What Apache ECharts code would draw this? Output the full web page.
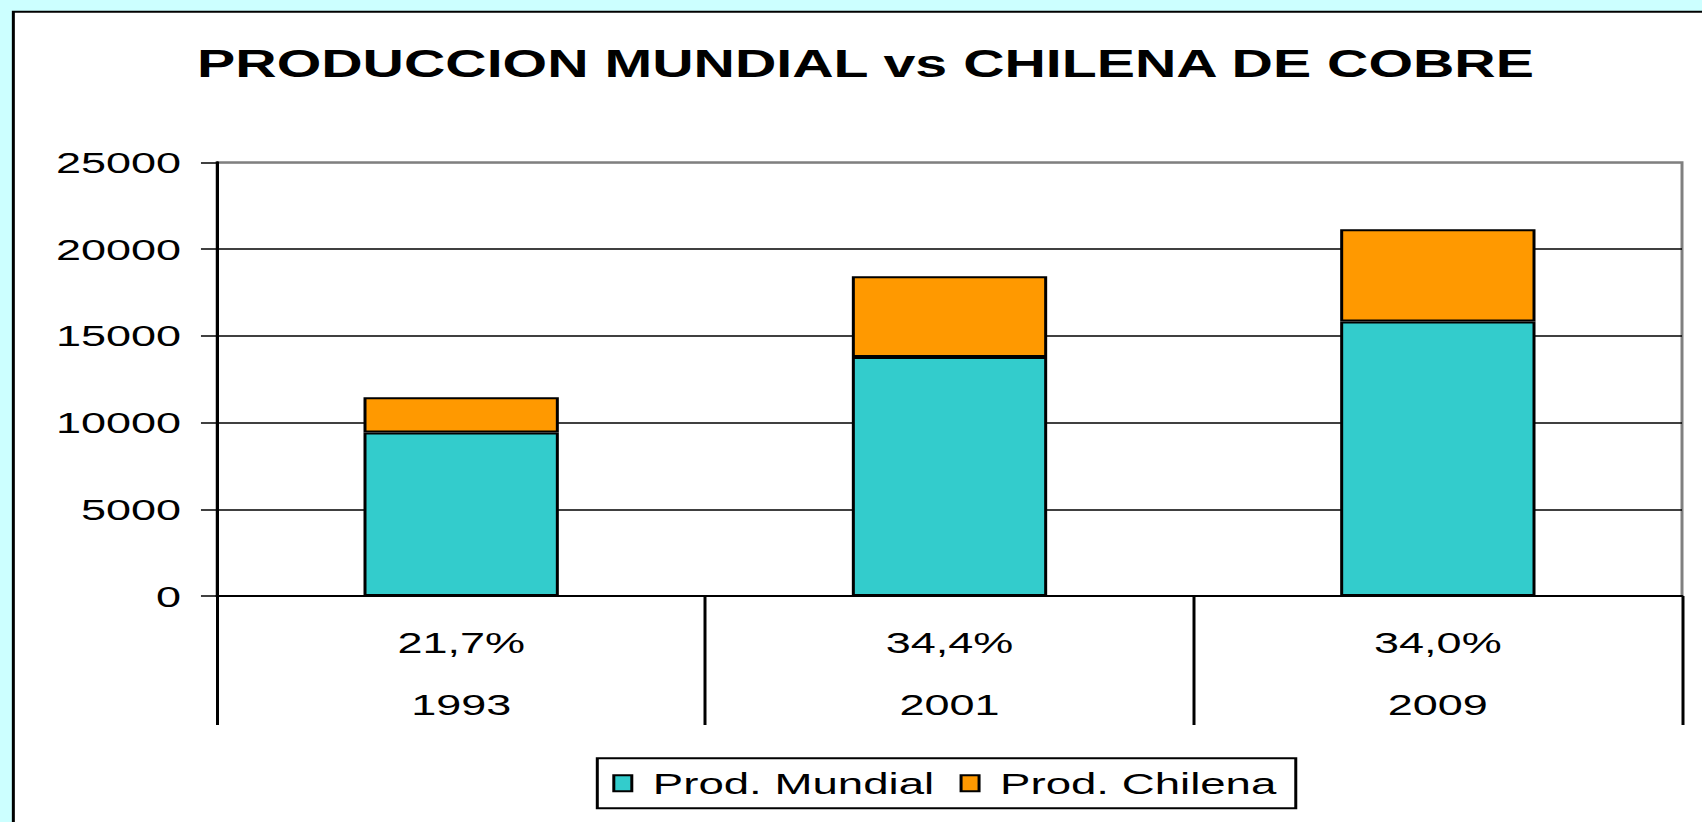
<!DOCTYPE html>
<html>
<head>
<meta charset="utf-8">
<script src="https://cdn.jsdelivr.net/npm/echarts@6/dist/echarts.min.js"></script>
<style>
  html, body { margin: 0; padding: 0; background: #ccffff; overflow: hidden; }
  #chart { position: absolute; left: 0; top: 0; width: 1134.67px; height: 822px;
           transform: scaleX(1.5); transform-origin: 0 0; }
</style>
</head>
<body>
<div id="chart"></div>
<script>
// Data
const titleText = 'PRODUCCION MUNDIAL vs CHILENA DE COBRE';
const years = ['1993', '2001', '2009'];
const pctLabels = ['21,7%', '34,4%', '34,0%'];
const seriesNames = ['Prod. Mundial', 'Prod. Chilena'];
const mundial = [9430, 13770, 15820];
const chilena = [2020, 4660, 5320];
const yTicks = { min: 0, max: 25000, interval: 5000 };

const FONT = '"Liberation Sans", Arial, sans-serif';
const chart = echarts.init(document.getElementById('chart'), null, { renderer: 'svg', width: 1134.67, height: 822 });

const categories = years.map((y, i) => pctLabels[i] + '\n' + y);

chart.setOption({
  animation: false,
  backgroundColor: 'transparent',
  graphic: [{
    type: 'rect', z: -10, silent: true,
    shape: { x: 8.9, y: 11.7, width: 2000, height: 2000 },
    style: { fill: '#ffffff', stroke: '#000000', lineWidth: 2 }
  }],
  title: {
    text: titleText,
    left: 572, top: 40, textAlign: 'center',
    textStyle: { fontFamily: FONT, fontWeight: 'bold', fontSize: 38.2, color: '#000' }
  },
  legend: {
    data: seriesNames,
    left: 398.2, top: 758.3,
    orient: 'horizontal',
    backgroundColor: '#fff',
    borderColor: '#000', borderWidth: 2,
    padding: [10, 13, 10, 10],
    itemWidth: 12, itemHeight: 16, itemGap: 17,
    icon: 'rect',
    textStyle: { fontFamily: FONT, fontSize: 30.4, color: '#000', padding: [0, 0, 0, 9] },
    selectedMode: false
  },
  grid: {
    left: 144.67, right: 13.33, top: 162.3, bottom: 226,
    show: true, borderColor: '#808080', borderWidth: 2, backgroundColor: 'transparent'
  },
  xAxis: {
    type: 'category',
    data: categories,
    axisLine: { show: true, lineStyle: { color: '#000', width: 2 } },
    axisTick: { show: true, length: 129, interval: 0, alignWithLabel: false, lineStyle: { color: '#000', width: 2 } },
    axisLabel: {
      interval: 0, margin: 15, color: '#000', fontFamily: FONT, fontSize: 30, lineHeight: 62.5
    },
    splitLine: { show: false }
  },
  yAxis: {
    type: 'value',
    min: yTicks.min, max: yTicks.max, interval: yTicks.interval,
    axisLine: { show: true, lineStyle: { color: '#000', width: 2 } },
    axisTick: { show: true, length: 10.7, lineStyle: { color: '#000', width: 1.5 } },
    axisLabel: { margin: 24, color: '#000', fontFamily: FONT, fontSize: 30, formatter: v => String(v) },
    splitLine: { show: true, lineStyle: { color: ['#000', '#000', '#000', '#000', '#000', '#808080'], width: 1.5 } }
  },
  series: [
    {
      name: seriesNames[0], type: 'bar', stack: 'total', barWidth: '40%',
      data: mundial,
      itemStyle: { color: '#33cccc', borderColor: '#000', borderWidth: 2 }
    },
    {
      name: seriesNames[1], type: 'bar', stack: 'total', barWidth: '40%',
      data: chilena,
      itemStyle: { color: '#ff9900', borderColor: '#000', borderWidth: 2 }
    }
  ]
});
</script>
</body>
</html>
